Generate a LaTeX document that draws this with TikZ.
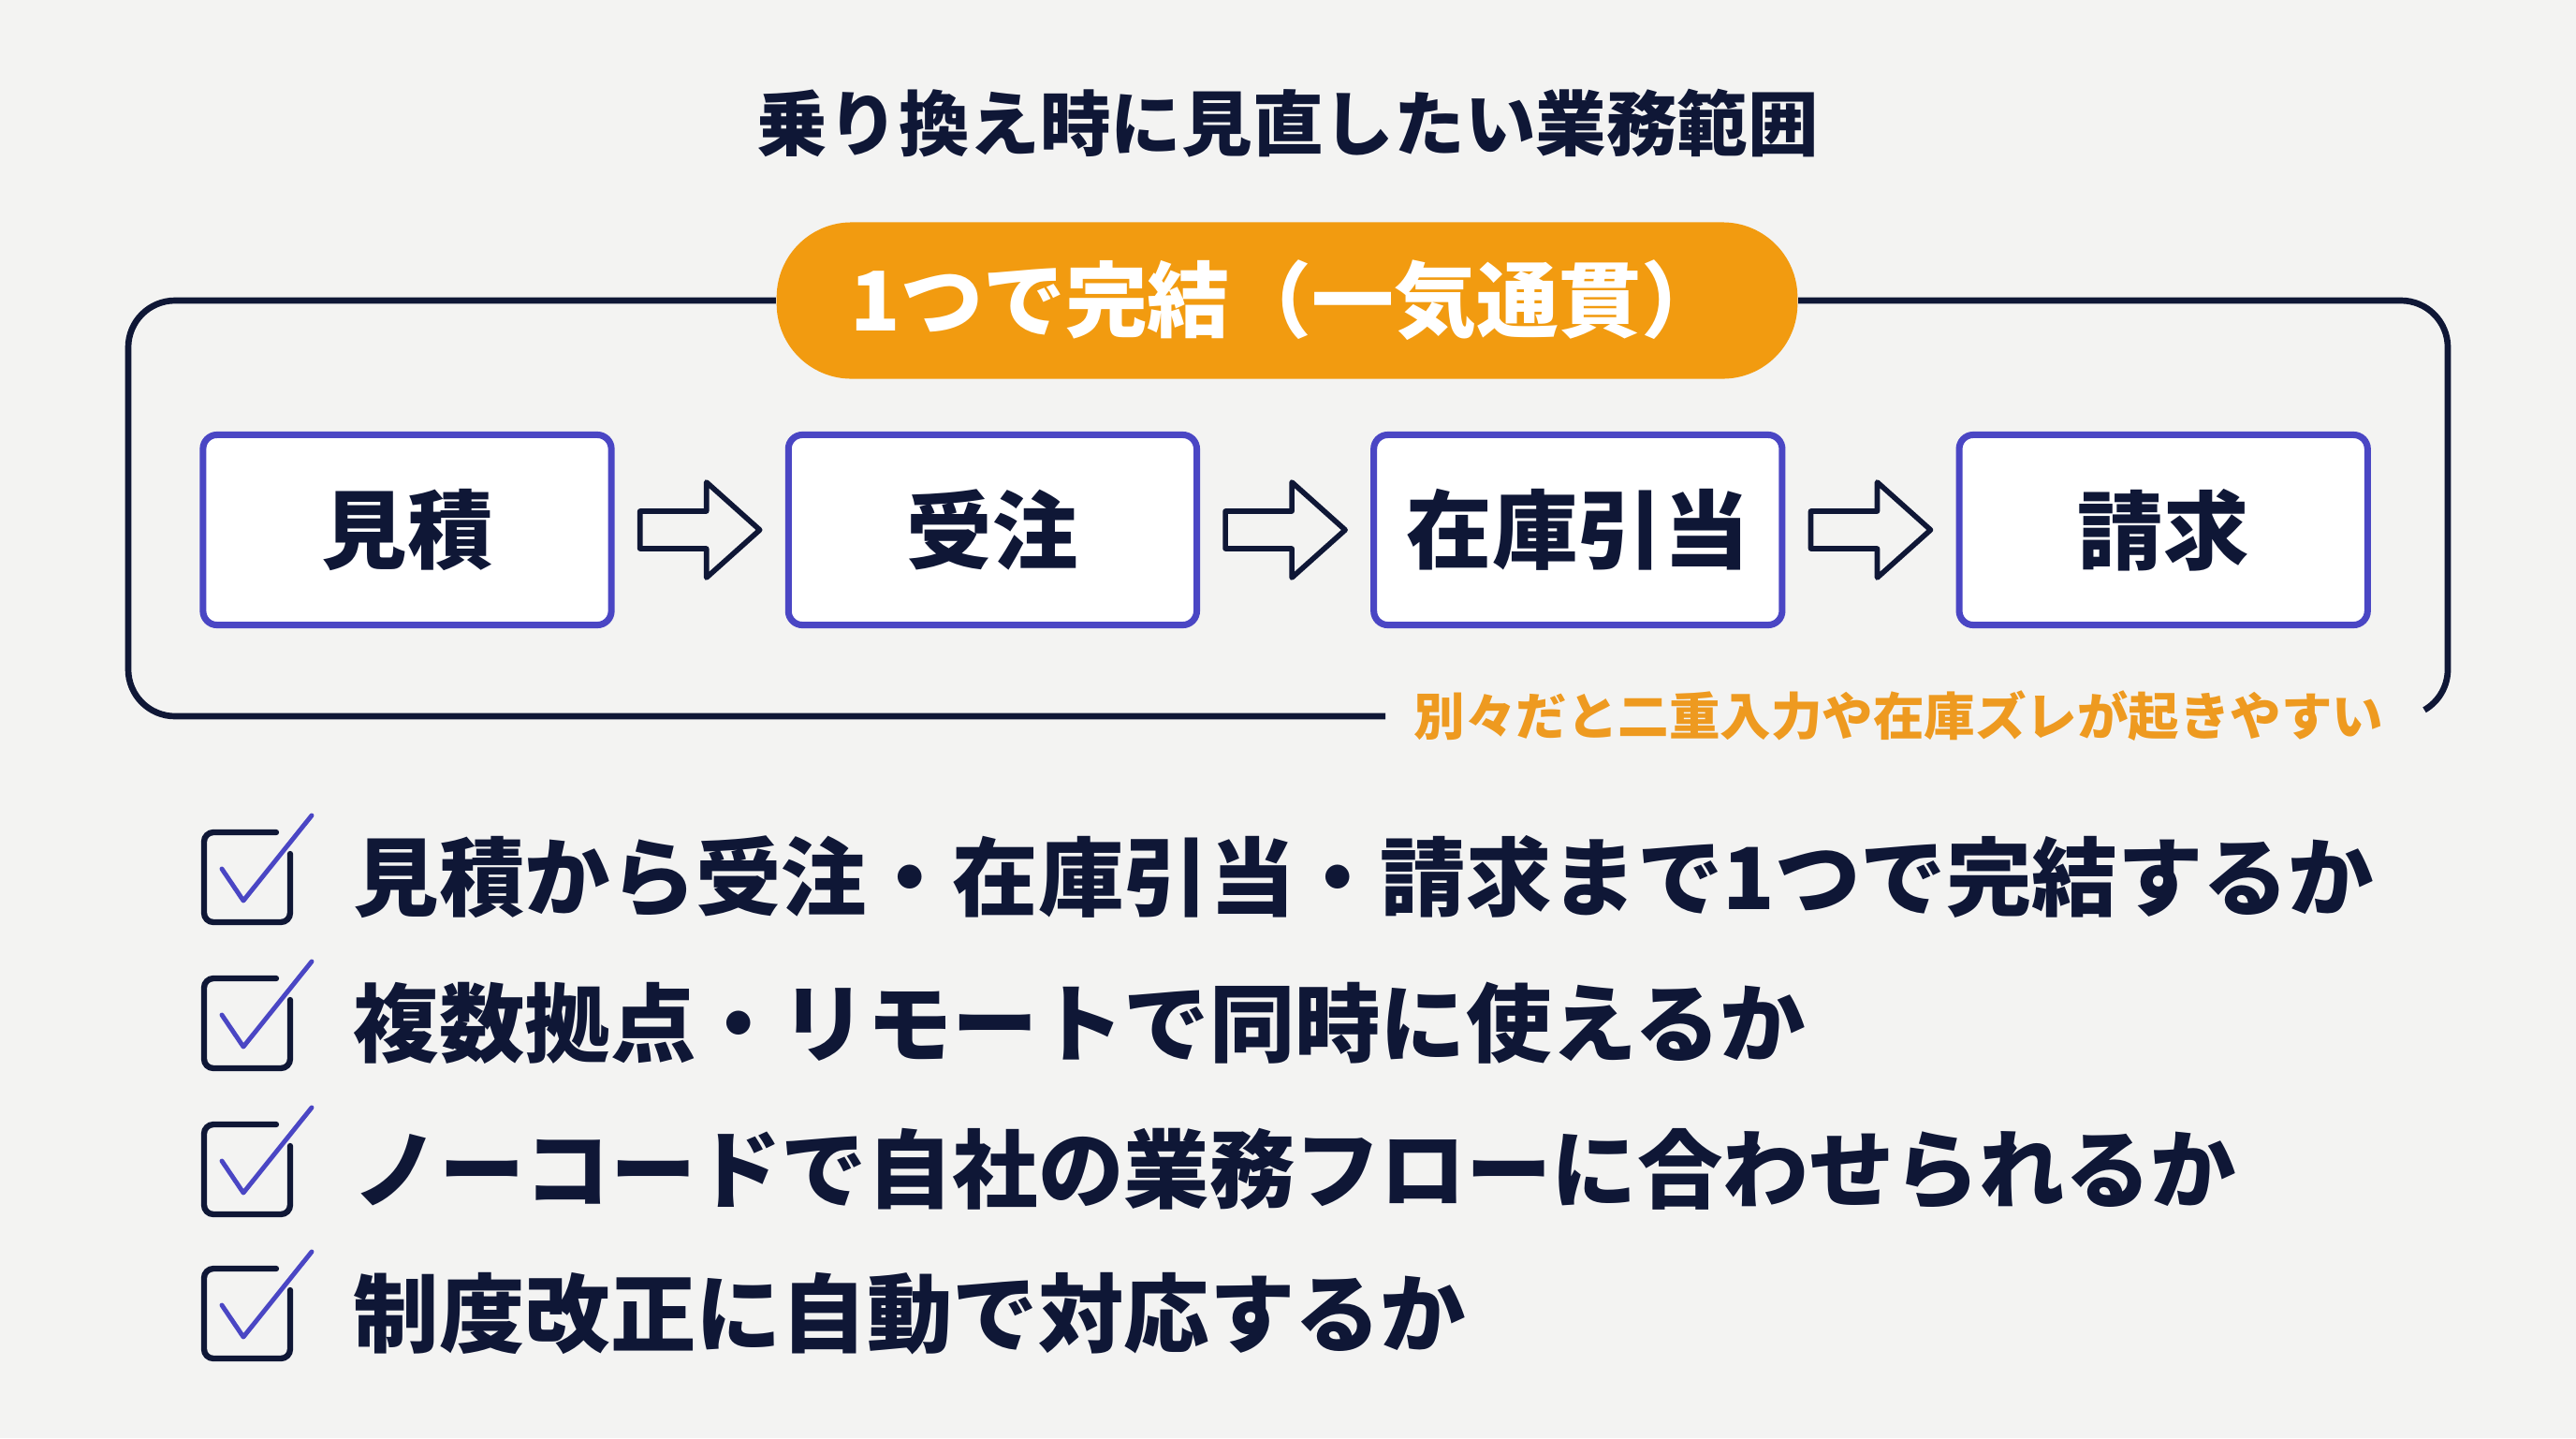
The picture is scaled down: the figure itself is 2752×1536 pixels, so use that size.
\documentclass[tikz,border=0pt]{standalone}
\usepackage{fontspec}
\setmainfont{Noto Sans CJK JP}
\usepackage{xcolor}
\definecolor{SlideNavy}{HTML}{0F1736}
\definecolor{SlideIndigo}{HTML}{4A46C4}
\definecolor{SlideOrange}{HTML}{F29B10}
\definecolor{SlideNote}{HTML}{EE9A20}
\definecolor{SlideBg}{HTML}{F3F3F2}
\usetikzlibrary{arrows.meta,positioning,calc}

\begin{document}
\begin{tikzpicture}[x=0.01cm,y=-0.01cm,
  stepbox/.style={draw=SlideIndigo,line width=2pt,fill=white,rounded corners=0.15cm,
    minimum width=4.36cm,minimum height=2.03cm,text=SlideNavy,
    font=\fontsize{26}{30}\selectfont\bfseries},
  flowarrow/.style={draw=SlideNavy,line width=1.6pt,line join=round},
  frameline/.style={draw=SlideNavy,line width=1.9pt},
  checkbox/.style={draw=SlideNavy,line width=1.8pt,rounded corners=0.1cm,line cap=round},
  checkmark/.style={draw=SlideIndigo,line width=1.4pt,line cap=round,line join=round},
  itemtext/.style={text=SlideNavy,inner sep=0pt,anchor=west,
    font=\fontsize{26}{30}\selectfont\bfseries}]
  \useasboundingbox (0,0) rectangle (2752,1536);
  \fill[SlideBg] (0,0) rectangle (2752,1536);

  % title
  \node[text=SlideNavy,font=\fontsize{21.5}{26}\selectfont\bfseries] (title) at (1376,132)
    {乗り換え時に見直したい業務範囲};

  % frame with label and note
  \node[fill=SlideOrange,rounded corners=0.8cm,minimum width=10.9cm,minimum height=1.67cm,
        text=white,font=\fontsize{25}{30}\selectfont\bfseries] (pill) at (1375,321)
    {1つで完結（一気通貫）};
  \node[anchor=west,inner sep=0pt,text=SlideNote,font=\fontsize{15.5}{18}\selectfont\bfseries]
    (note) at (1510,765) {別々だと二重入力や在庫ズレが起きやすい};
  \draw[frameline,rounded corners=0.5cm] (pill.west) -| (137,765) -- ([xshift=-0.3cm]note.west);
  \draw[frameline] (pill.east) -- (2565,321) arc[start angle=-90,end angle=0,radius=50]
    -- (2615,715) arc[start angle=0,end angle=60,radius=50];

  % steps
  \node[stepbox] (mitsumori) at (435,566) {見積};
  \node[stepbox,right=1.82cm of mitsumori] (juchu) {受注};
  \node[stepbox,right=1.82cm of juchu] (hikiate) {在庫引当};
  \node[stepbox,right=1.82cm of hikiate] (seikyu) {請求};
  \foreach \a/\b in {mitsumori/juchu,juchu/hikiate,hikiate/seikyu}{
    \coordinate (mid) at ($(\a.east)!0.5!(\b.west)$);
    \draw[flowarrow] ($(mid)+(-64,-20)$) -- ++(71,0) -- ++(0,-31) -- ++(57,51)
      -- ++(-57,51) -- ++(0,-31) -- ++(-71,0) -- cycle;
  }

  % checklist
  \foreach \i/\y/\txt in {1/937/{見積から受注・在庫引当・請求まで1つで完結するか},
      2/1093/{複数拠点・リモートで同時に使えるか},
      3/1249/{ノーコードで自社の業務フローに合わせられるか},
      4/1403/{制度改正に自動で対応するか}}{
    \draw[checkbox] (295,\y-48) -- (218,\y-48) -- (218,\y+48) -- (310,\y+48) -- (310,\y-25);
    \draw[checkmark] (237,\y-9) -- (260,\y+25) -- (333,\y-66);
    \node[itemtext] (item\i) at (377,\y) {\txt};
  }
\end{tikzpicture}
\end{document}
